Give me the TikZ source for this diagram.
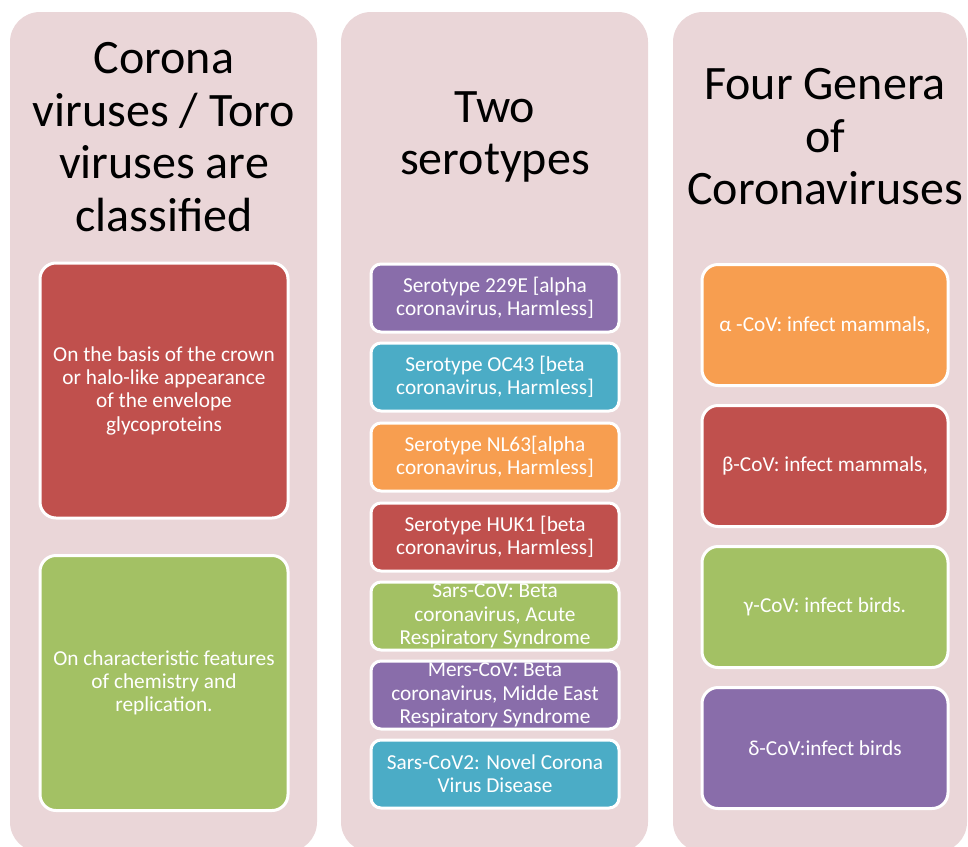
\documentclass[tikz,border=0pt]{standalone}
\usepackage{fontspec}
\setmainfont{Carlito}
\definecolor{panel}{RGB}{234,214,216}
\definecolor{cred}{RGB}{192,80,77}
\definecolor{cgreen}{RGB}{163,193,100}
\definecolor{cpurple}{RGB}{137,109,170}
\definecolor{ccyan}{RGB}{75,172,198}
\definecolor{corange}{RGB}{247,158,80}
\begin{document}
\begin{tikzpicture}[x=1pt,y=-1pt,
  panelbox/.style={fill=panel, draw=none, rounded corners=30pt},
  titletext/.style={align=center, font=\fontsize{48}{52.5}\selectfont, inner sep=0pt},
  cbox/.style={draw=white, line width=3pt, rounded corners=16pt, text=white, align=center,
    font=\fontsize{21.3}{23.3}\selectfont, inner sep=0pt},
  bigbox/.style={cbox, minimum width=248pt, minimum height=255pt},
  serobox/.style={cbox, rounded corners=10pt, minimum width=248pt, minimum height=68pt},
  genbox/.style={cbox, minimum width=246pt, minimum height=121pt}
]
\useasboundingbox (0,0) rectangle (968,846);
% panels
\path[panelbox] (10,12) rectangle (317,852);
\path[panelbox] (341,12) rectangle (648,852);
\path[panelbox] (673,12) rectangle (967,852);
% titles
\node[titletext] (t1) at (164,137) {Corona\\viruses / Toro\\viruses are\\classified};
\node[titletext] (t2) at (495,137) {Two\\serotypes};
\node[titletext] (t3) at (825,137) {Four Genera\\of\\Coronaviruses};
% left column
\node[bigbox, fill=cred] (l1) at (164,390.5) {On the basis of the crown\\or halo-like appearance\\of the envelope\\glycoproteins};
\node[bigbox, fill=cgreen] (l2) at (164,683) {On characteristic features\\of chemistry and\\replication.};
% middle column
\node[serobox, fill=cpurple] (m1) at (495,298) {Serotype 229E [alpha\\coronavirus, Harmless]};
\node[serobox, fill=ccyan] (m2) at (495,377) {Serotype OC43 [beta\\coronavirus, Harmless]};
\node[serobox, fill=corange] (m3) at (495,457) {Serotype NL63[alpha\\coronavirus, Harmless]};
\node[serobox, fill=cred] (m4) at (495,537) {Serotype HUK1 [beta\\coronavirus, Harmless]};
\node[serobox, fill=cgreen] (m5) at (495,616) {Sars-CoV: Beta\\coronavirus, Acute\\Respiratory Syndrome};
\node[serobox, fill=cpurple] (m6) at (495,695) {Mers-CoV: Beta\\coronavirus, Midde East\\Respiratory Syndrome};
\node[serobox, fill=ccyan] (m7) at (495,774) {Sars-CoV2: Novel Corona\\Virus Disease};
% right column
\node[genbox, fill=corange] (r1) at (825,325) {α -CoV: infect mammals,};
\node[genbox, fill=cred] (r2) at (825,466) {β-CoV: infect mammals,};
\node[genbox, fill=cgreen] (r3) at (825,607) {γ-CoV: infect birds.};
\node[genbox, fill=cpurple] (r4) at (825,748) {δ-CoV:infect birds};
\end{tikzpicture}
\end{document}
